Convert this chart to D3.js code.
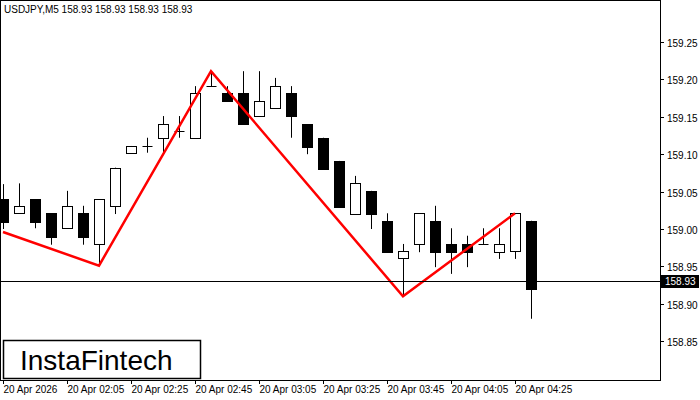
<!DOCTYPE html>
<html><head><meta charset="utf-8">
<script src="https://cdn.jsdelivr.net/npm/d3@7"></script>
<style>body{margin:0;background:#fff}text{font-family:"Liberation Sans",Arial,sans-serif}</style>
</head><body><svg id="c" width="700" height="400"></svg>
<script>
const opens  = [159.040,159.021,159.040,159.021,159.001,159.021,158.980,159.031,159.102,159.111,159.122,159.131,159.122,159.191,159.182,159.182,159.151,159.162,159.182,159.140,159.122,159.091,159.020,159.051,159.011,158.961,158.980,159.011,158.980,158.980,158.980,158.969,158.971,159.011];
const closes = [159.009,159.031,159.009,158.989,159.031,158.989,159.040,159.082,159.111,159.111,159.140,159.131,159.182,159.191,159.171,159.140,159.171,159.191,159.151,159.110,159.080,159.029,159.061,159.020,158.969,158.971,159.021,158.969,158.969,158.969,158.980,158.980,159.021,158.920];
const highs  = [159.060,159.061,159.040,159.021,159.051,159.031,159.040,159.082,159.111,159.122,159.151,159.151,159.191,159.211,159.191,159.211,159.211,159.202,159.191,159.140,159.122,159.091,159.071,159.051,159.021,158.980,159.021,159.031,159.001,158.991,159.001,159.001,159.021,159.011];
const lows   = [159.000,159.021,159.001,158.979,159.001,158.979,158.951,159.020,159.102,159.102,159.102,159.122,159.122,159.191,159.171,159.140,159.151,159.162,159.122,159.100,159.080,159.029,159.020,159.000,158.969,158.910,158.969,158.949,158.940,158.949,158.980,158.960,158.960,158.880];
const timeLabels = ["20 Apr 2026","20 Apr 02:05","20 Apr 02:25","20 Apr 02:45","20 Apr 03:05","20 Apr 03:25","20 Apr 03:45","20 Apr 04:05","20 Apr 04:25"];
const priceTicks = [158.85,158.90,158.95,159.00,159.05,159.10,159.15,159.20,159.25];
const patternIdx = [0,6,13,25,32];
const patternPx  = [158.996,158.951,159.211,158.910,159.021];
const lastPrice = 158.93;

const svg = d3.select("#c");
const x = d3.scaleLinear().domain([0,1]).range([3,19]);
const y = d3.scaleLinear().domain([159.00,159.25]).range([229,42]);
const W = 660, H = 380;

const clip = svg.append("clipPath").attr("id","pc").append("rect").attr("x",1).attr("y",1).attr("width",W-1).attr("height",H-1);
const g = svg.append("g").attr("clip-path","url(#pc)");
opens.forEach((o,i)=>{
  const c = closes[i], cx = Math.round(x(i))+0.5;
  g.append("line").attr("x1",cx).attr("x2",cx).attr("y1",y(highs[i])).attr("y2",y(lows[i])).attr("stroke","#000");
  const top = Math.round(y(Math.max(o,c))), bot = Math.round(y(Math.min(o,c)));
  if (bot-top < 1) {
    g.append("line").attr("x1",cx-5).attr("x2",cx+5).attr("y1",top+0.5).attr("y2",top+0.5).attr("stroke","#000");
  } else {
    g.append("rect").attr("x",cx-5).attr("y",top+0.5).attr("width",10).attr("height",bot-top)
      .attr("fill", c>=o ? "#fff" : "#000").attr("stroke","#000");
  }
});

g.append("path").attr("d",d3.line().x((d,i)=>x(patternIdx[i])).y(d=>y(d))(patternPx))
  .attr("fill","none").attr("stroke","#f00").attr("stroke-width",2.5);

svg.append("line").attr("x1",0).attr("x2",W).attr("y1",Math.round(y(lastPrice))+0.5).attr("y2",Math.round(y(lastPrice))+0.5).attr("stroke","#000");
svg.append("rect").attr("x",0.5).attr("y",0.5).attr("width",W).attr("height",H).attr("fill","none").attr("stroke","#000");

priceTicks.forEach(p=>{
  const yy = Math.round(y(p))+0.5;
  svg.append("line").attr("x1",W).attr("x2",W+4).attr("y1",yy).attr("y2",yy).attr("stroke","#000");
  svg.append("text").attr("x",667).attr("y",yy+4).attr("font-size",10).text(p.toFixed(2));
});
const ly = Math.round(y(lastPrice));
svg.append("rect").attr("x",W+1).attr("y",ly-6).attr("width",38).attr("height",13).attr("fill","#000");
svg.append("text").attr("x",665).attr("y",ly+4).attr("font-size",10).attr("fill","#fff").text(lastPrice.toFixed(2));

timeLabels.forEach((t,k)=>{
  const xx = Math.round(x(k*4))+0.5;
  svg.append("line").attr("x1",xx).attr("x2",xx).attr("y1",H).attr("y2",H+4).attr("stroke","#000");
  svg.append("text").attr("x",xx).attr("y",H+13).attr("font-size",10).text(t);
});

svg.append("text").attr("x",4).attr("y",13).attr("font-size",10).text("USDJPY,M5  158.93 158.93 158.93 158.93");

svg.append("rect").attr("x",3.5).attr("y",340.5).attr("width",197).attr("height",38).attr("fill","#fff").attr("stroke","#000").attr("stroke-width",1.5);
svg.append("text").attr("x",20).attr("y",370).attr("font-size",28).attr("font-family","Roboto,sans-serif").text("InstaFintech");
</script></body></html>
